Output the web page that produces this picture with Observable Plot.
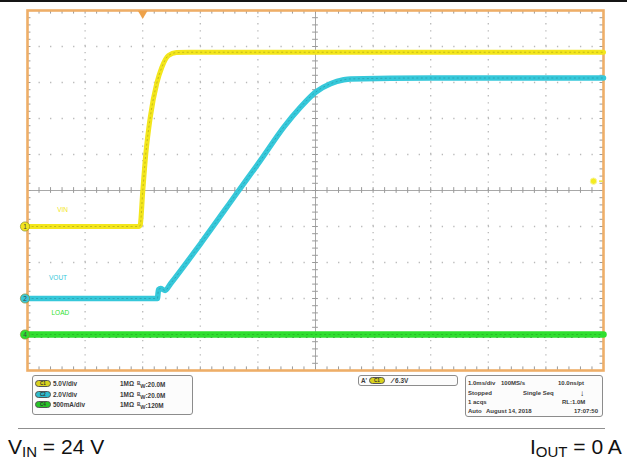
<!DOCTYPE html>
<html>
<head>
<meta charset="utf-8">
<script src="https://cdn.jsdelivr.net/npm/d3@7"></script>
<script src="https://cdn.jsdelivr.net/npm/@observablehq/plot@0.6"></script>
<style>
  body { margin: 0; background: #fff; }
  #wrap { position: relative; width: 627px; height: 461px; overflow: hidden; font-family: "Liberation Sans", Arial, sans-serif; background: #fff; }
  #scope { position: absolute; left: 0; top: 0; }
  .topline { position: absolute; left: 0; top: 0; width: 627px; height: 2px; background: #151515; }
  .box { position: absolute; box-sizing: border-box; border: 1px solid #8c8c8c; border-radius: 3px; background: #fcfcfc; }
  .t { position: absolute; font-size: 6.4px; font-weight: bold; color: #3a3a3a; white-space: nowrap; line-height: 7px; }
  .s { font-size: 6px; }
  .pill { position: absolute; box-sizing: border-box; width: 16px; height: 7px; border-radius: 4px; border: 1px solid #555; font-size: 4.5px; line-height: 5px; text-align: center; color: #333; font-weight: bold; }
  .sep { position: absolute; left: 18px; top: 428px; width: 587px; height: 1px; background: #8f8f8f; }
  .cap { position: absolute; font-size: 21px; color: #111; white-space: nowrap; line-height: 22px; }
  .cap sub { font-size: 15px; vertical-align: -3px; line-height: 0; }
</style>
</head>
<body>
<div id="wrap">
  <div id="scope"></div>
  <div class="topline"></div>
</div>
<script>
// ---- Data read from the oscilloscope capture (time in ms from left edge, 1 ms/div) ----
const vinTimeMs  = [0, 1.94, 1.957, 2.002, 2.054, 2.130, 2.245, 2.332, 2.448, 2.587, 2.80, 6.0, 10];
const vinVolts   = [0, 0,    0.2,   5.0,   10.1,  15.1,  19.9,  22.1,  23.75, 24.15, 24.2, 24.2, 24.2];
const voutTimeMs = [0, 2.255, 2.275, 2.31, 2.39, 2.483, 3.003, 3.668, 4.045, 4.450, 4.740, 5.0, 5.26, 5.49, 5.61, 7.0, 10];
const voutVolts  = [0, 0,     0.5,   0.55, 0.45, 0.82,  3.04,  6.0,   7.67,  9.52,  10.63, 11.46, 11.93, 12.15, 12.2, 12.25, 12.25];
const loadTimeMs = [0, 10];
const loadAmps   = [0, 0];

const channelIds     = ["1", "2", "4"];
const channelLabels  = ["VIN", "VOUT", "LOAD"];
const channelPerDiv  = [5, 2, 0.5];
const channelOffset  = [-1, -3, -4];          // ground level in divisions from centre
const channelColors  = ["#f3e61c", "#36c8da", "#2fdf2f"];
const channelDark    = ["#6d6a10", "#1c6a74", "#18801a"];
const labelTimeMs    = [0.61, 0.53, 0.57];
const labelAboveDiv  = [0.45, 0.56, 0.61];
const triggerTimeMs  = 2.0;
const triggerLevelV  = 6.3;

const divTicksX   = d3.range(0, 11);
const divTicksY   = d3.range(-5, 6);
const minorTicksX = d3.range(0, 51).map(i => i * 0.2);
const minorTicksY = d3.range(0, 51).map(i => -5 + i * 0.2);

const toDiv = (ch, v) => channelOffset[ch] + v / channelPerDiv[ch];
const series = [
  vinTimeMs.map((t, i) => ({t, y: toDiv(0, vinVolts[i]), ch: 0})),
  voutTimeMs.map((t, i) => ({t, y: toDiv(1, voutVolts[i]), ch: 1})),
  loadTimeMs.map((t, i) => ({t, y: toDiv(2, loadAmps[i]), ch: 2}))
];
const channels = channelIds.map((id, i) => ({id, i, label: channelLabels[i], y: channelOffset[i],
  ly: channelOffset[i] + labelAboveDiv[i], lt: labelTimeMs[i]}));
const widths = [5, 5.5, 6.5];

const gridCol = "#b9b9b9";
const tickCol = "#9a9a9a";
const marks = [
  Plot.ruleX(divTicksX.filter(d => d > 0 && d < 10 && d !== 5), {y1: -5, y2: 5, stroke: gridCol, strokeWidth: 1.3, strokeDasharray: "1.3 5.9"}),
  Plot.ruleY(divTicksY.filter(d => d > -5 && d < 5 && d !== 0), {x1: 0, x2: 10, stroke: gridCol, strokeWidth: 1.3, strokeDasharray: "1.3 10.22"}),
  Plot.ruleX([5], {y1: -5, y2: 5, stroke: "#a8a8a8", strokeWidth: 1}),
  Plot.ruleY([0], {x1: 0, x2: 10, stroke: "#a8a8a8", strokeWidth: 1}),
  Plot.ruleY(minorTicksY, {y: d => d, x1: 4.95, x2: 5.05, stroke: tickCol}),
  Plot.ruleX(minorTicksX, {x: d => d, y1: -0.08, y2: 0.08, stroke: tickCol}),
  Plot.ruleX(minorTicksX, {x: d => d, y1: 5, y2: 4.9, stroke: tickCol}),
  Plot.ruleX(minorTicksX, {x: d => d, y1: -5, y2: -4.9, stroke: tickCol}),
  Plot.ruleY(minorTicksY, {y: d => d, x1: 0, x2: 0.06, stroke: tickCol}),
  Plot.ruleY(minorTicksY, {y: d => d, x1: 9.94, x2: 10, stroke: tickCol}),
  Plot.frame({stroke: "#eeae68", strokeWidth: 2.6}),
  Plot.text(channels, {x: "lt", y: "ly", text: "label", fill: (d) => channelColors[d.i], fontSize: 6.5, fontFamily: "Liberation Sans, Arial, sans-serif"}),
];
[2, 0, 1].forEach(ch => {
  marks.push(Plot.line(series[ch], {x: "t", y: "y", stroke: channelColors[ch], strokeWidth: widths[ch], curve: "monotone-x"}));
  marks.push(Plot.line(series[ch], {x: "t", y: "y", stroke: channelDark[ch], strokeWidth: 0.8, strokeOpacity: 0.45, strokeDasharray: "1.2 3.3", curve: "monotone-x"}));
});
marks.push(
  Plot.line(series[2], {x: "t", y: "y", stroke: channelDark[2], strokeWidth: 1, strokeOpacity: 0.5, strokeDasharray: "0.8 6", dy: 3}),
  Plot.dot(channels, {x: 0, y: "y", dx: -2.5, r: 4.6, fill: d => channelColors[d.i], stroke: "#8a8a30", strokeWidth: 0.7}),
  Plot.text(channels, {x: 0, y: "y", dx: -2.5, text: "id", fontSize: 6.5, fill: "#444", fontFamily: "Liberation Sans, Arial, sans-serif"}),
  Plot.dot([triggerTimeMs], {x: d => d, y: 5, dy: 3, r: 3.6, symbol: "triangle", rotate: 180, fill: "#eea24a", stroke: "none"}),
  Plot.dot([triggerLevelV], {x: 10, y: d => toDiv(0, d), dx: -10, r: 3.2, fill: "#f4ec20", stroke: "#f8f4a0", strokeWidth: 1}),
  Plot.ruleY([triggerLevelV], {y: d => toDiv(0, d), x1: 9.93, x2: 10, stroke: "#f0e43a", strokeWidth: 1.5})
);

const chart = Plot.plot({
  width: 627, height: 372,
  marginLeft: 27, marginRight: 24, marginTop: 10, marginBottom: 2,
  x: {domain: [0, 10], axis: null},
  y: {domain: [-5, 5], axis: null},
  style: {background: "transparent", overflow: "visible"},
  marks
});
document.getElementById("scope").appendChild(chart);

// ---- Status panels and captions (text) ----
const wrap = document.getElementById("wrap");
function add(cls, left, top, html, style) {
  const el = document.createElement("div");
  el.className = cls;
  el.style.left = left + "px";
  el.style.top = top + "px";
  if (style) Object.assign(el.style, style);
  el.innerHTML = html;
  wrap.appendChild(el);
  return el;
}
add("box", 32, 375, "", {width: "161px", height: "40px"});
add("box", 358, 375, "", {width: "100px", height: "11px"});
add("box", 465, 375, "", {width: "138px", height: "42px"});

const pillFill = ["#d9d21e", "#2fbccc", "#26c426"];
const pillTags = ["C1", "C2", "C4"];
const vdivText = ["5.0V/div", "2.0V/div", "500mA/div"];
const bwText   = ["20.0M", "20.0M", "120M"];
const rowTop   = [379.5, 390.5, 400.5];
rowTop.forEach((top, i) => {
  add("pill", 35, top, pillTags[i], {background: pillFill[i]});
  add("t", 53, top, vdivText[i]);
  add("t", 120, top, "1MΩ");
  add("t", 137, top, '<span style="font-size:4.5px;vertical-align:2px">B</span><span style="font-size:5.5px;vertical-align:-1px">W</span>:' + bwText[i]);
});
add("t", 361, 376.5, "A'");
add("pill", 369, 376.5, "C1", {background: pillFill[0]});
add("t", 392, 376.5, '<span style="font-size:8px;color:#222">⁄</span> ' + triggerLevelV.toFixed(1) + "V");

const statRows = [
  [[468, "1.0ms/div"], [501, "100MS/s"], [558, "10.0ns/pt"]],
  [[468, "Stopped"], [523, "Single Seq"], [580, "↓"]],
  [[468, "1 acqs"], [562, "RL:1.0M"]],
  [[468, "Auto"], [486, "August 14, 2018"], [574, "17:07:50"]]
];
const statTop = [380, 389.5, 398.5, 408];
statRows.forEach((row, r) => row.forEach(([x, s]) => add("t s", x, statTop[r], s,
  s === "↓" ? {fontSize: "8px", lineHeight: "7px", color: "#111", fontWeight: "900"} : null)));

add("sep", 18, 428, "");
add("cap", 8, 436, "V<sub>IN</sub> = 24 V");
const right = add("cap", 0, 436, "I<sub>OUT</sub> = 0 A");
right.style.left = (622 - right.offsetWidth) + "px";
</script>
</body>
</html>
